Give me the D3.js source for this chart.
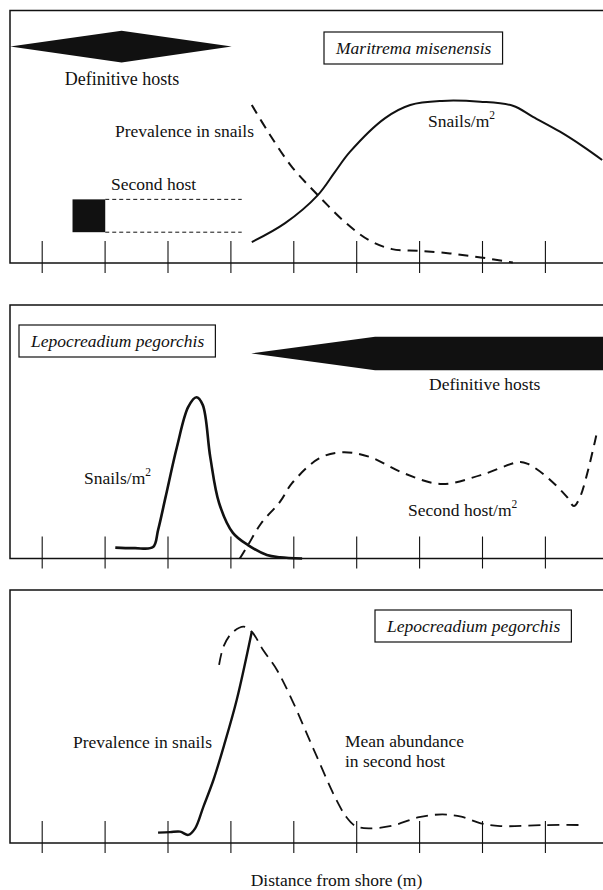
<!DOCTYPE html>
<html>
<head>
<meta charset="utf-8">
<script src="https://cdn.jsdelivr.net/npm/d3@7"></script>
<style>
  body { margin: 0; background: #fff; }
  svg { display: block; font-family: 'Liberation Serif', 'Times New Roman', serif; }
</style>
</head>
<body>
<div id="app"></div>
<script>
'use strict'

// Distance from shore, one unlabelled tick per step
const distanceTicks = [0, 1, 2, 3, 4, 5, 6, 7, 8]

// Maritrema misenensis (top panel), [distance, relative level 0-100]
const mmSnails = [
  [3.34, 8.3], [3.87, 15.8], [4.39, 26.9], [4.66, 36.0], [4.90, 44.0], [5.46, 57.4],
  [5.86, 62.6], [6.36, 64.2], [6.97, 63.9], [7.49, 62.3], [7.81, 57.9], [8.24, 52.0],
  [8.61, 46.1], [8.91, 40.8]
]
const mmPrevalence = [
  [3.34, 62.6], [3.61, 51.5], [3.98, 38.0], [4.39, 26.9], [4.84, 15.8], [5.20, 9.1],
  [5.57, 5.5], [6.00, 4.8], [6.49, 3.8], [6.98, 2.2], [7.49, 0.2]
]
// definitive hosts band: [distance, half thickness]
const mmDefHosts = [[-0.5, 0], [1.27, 6.3], [3.02, 0]]
const mmDefHostsLevel = 85.7
// second host: occupied from..to, then dashed extent
const mmSecondHost = [0.49, 1.01, 3.18]
const mmSecondHostLevels = [12.2, 25.2]

// Lepocreadium pegorchis (middle panel)
const lpSnails = [
  [1.17, 4.3], [1.48, 4.1], [1.77, 4.5], [1.85, 11.2], [1.97, 24.3], [2.15, 44.0],
  [2.33, 59.8], [2.46, 63.6], [2.56, 60.6], [2.68, 40.0], [2.82, 21.9], [3.04, 10.1],
  [3.28, 5.3], [3.58, 1.4], [3.79, 0.5], [4.14, 0]
]
const lpSecondHost = [
  [3.15, 0], [3.28, 5.3], [3.49, 13.9], [3.79, 22.4], [3.98, 29.7], [4.41, 39.5],
  [4.77, 41.9], [5.20, 40.2], [5.76, 33.6], [6.36, 29.4], [6.98, 32.9], [7.60, 38.1],
  [7.73, 37.3], [8.03, 32.2], [8.35, 24.3], [8.46, 20.7], [8.56, 24.3], [8.83, 50.0]
]
const lpDefHosts = [[3.33, 0], [5.30, 6.6], [9.2, 6.6]]
const lpDefHostsLevel = 80.9

// Lepocreadium pegorchis (bottom panel)
const lpPrevalence = [
  [1.85, 4.1], [2.04, 4.3], [2.20, 4.5], [2.33, 3.2], [2.44, 5.8], [2.57, 14.3],
  [2.73, 24.9], [2.90, 38.7], [3.10, 56.5], [3.34, 83.5]
]
const lpAbundance = [
  [2.82, 70.4], [2.89, 77.6], [3.02, 82.9], [3.21, 85.5], [3.34, 83.5], [3.52, 76.3],
  [3.74, 68.4], [3.98, 56.5], [4.35, 35.5], [4.66, 18.3], [4.84, 10.4], [4.99, 6.7],
  [5.20, 5.8], [5.57, 6.8], [6.00, 10.2], [6.37, 11.3], [6.67, 10.4], [6.98, 7.8],
  [7.29, 6.7], [8.02, 7.1], [8.63, 7.1]
]

const setWidth = 603
const setHeight = 890
const ink = '#111'

const svg = d3.select('#app')
  .append('svg')
  .attr('width', setWidth)
  .attr('height', setHeight)

const xScale = d3.scaleLinear()
  .domain([0, 9])
  .range([41.7, 607.8])

const makePanel = (top, bottom) => {
  const g = svg.append('g')
  const y = d3.scaleLinear().domain([0, 100]).range([bottom, top])

  g.append('rect')
    .attr('x', 10)
    .attr('y', top)
    .attr('width', 640)
    .attr('height', bottom - top)
    .attr('fill', 'none')
    .attr('stroke', ink)
    .attr('stroke-width', 1.5)

  const axis = g.append('g')
    .attr('transform', `translate(0,${bottom})`)
    .call(d3.axisBottom(xScale).tickValues(distanceTicks).tickSize(10).tickFormat(''))
  axis.select('.domain').remove()
  axis.selectAll('.tick text').remove()
  axis.selectAll('.tick line')
    .attr('y1', -22)
    .attr('stroke', ink)
    .attr('stroke-width', 1.1)

  return { g, y }
}

const curve = (p, data, width, dash) => {
  const line = d3.line()
    .x(d => xScale(d[0]))
    .y(d => p.y(d[1]))
    .curve(d3.curveCatmullRom.alpha(0.5))
  p.g.append('path')
    .datum(data)
    .attr('d', line)
    .attr('fill', 'none')
    .attr('stroke', ink)
    .attr('stroke-width', width)
    .attr('stroke-dasharray', dash || null)
}

const band = (p, data, level) => {
  const area = d3.area()
    .x(d => xScale(d[0]))
    .y0(d => p.y(level - d[1]))
    .y1(d => p.y(level + d[1]))
  p.g.append('path')
    .datum(data)
    .attr('d', area)
    .attr('fill', ink)
}

const label = (p, x, y, txt, opts = {}) => {
  const t = p.g.append('text')
    .attr('x', x)
    .attr('y', y)
    .attr('font-size', opts.size || 17.5)
    .attr('fill', ink)
    .attr('text-anchor', opts.anchor || 'start')
    .attr('font-style', opts.italic ? 'italic' : null)
  t.append('tspan').text(txt)
  if (opts.sup) {
    t.append('tspan').text(opts.sup).attr('font-size', 11.5).attr('dy', -8)
  }
  return t
}

const titleBox = (p, x, y, txt) => {
  const t = label(p, x, y, txt, { italic: true })
  const b = t.node().getBBox()
  p.g.insert('rect', () => t.node())
    .attr('x', b.x - 11)
    .attr('y', y - 22)
    .attr('width', b.width + 22)
    .attr('height', 32)
    .attr('fill', '#fff')
    .attr('stroke', ink)
    .attr('stroke-width', 1.2)
}

// ---- panel 1: Maritrema misenensis
const p1 = makePanel(10.5, 263)
band(p1, mmDefHosts, mmDefHostsLevel)
label(p1, 122, 85, 'Definitive hosts', { anchor: 'middle', size: 18 })
titleBox(p1, 336, 54, 'Maritrema misenensis')
curve(p1, mmSnails, 2)
curve(p1, mmPrevalence, 2, '10,7')
label(p1, 254, 137, 'Prevalence in snails', { anchor: 'end' })
label(p1, 428, 127, 'Snails/m', { sup: '2' })
label(p1, 111, 190, 'Second host')

p1.g.append('rect')
  .attr('x', xScale(mmSecondHost[0]))
  .attr('y', p1.y(mmSecondHostLevels[1]))
  .attr('width', xScale(mmSecondHost[1]) - xScale(mmSecondHost[0]))
  .attr('height', p1.y(mmSecondHostLevels[0]) - p1.y(mmSecondHostLevels[1]))
  .attr('fill', ink)

p1.g.selectAll('.second-host')
  .data(mmSecondHostLevels)
  .enter()
  .append('line')
  .attr('class', 'second-host')
  .attr('x1', xScale(mmSecondHost[1]))
  .attr('x2', xScale(mmSecondHost[2]))
  .attr('y1', d => p1.y(d))
  .attr('y2', d => p1.y(d))
  .attr('stroke', ink)
  .attr('stroke-width', 1)
  .attr('stroke-dasharray', '4,3')

// ---- panel 2: Lepocreadium pegorchis, densities
const p2 = makePanel(305, 558.5)
titleBox(p2, 31, 347, 'Lepocreadium pegorchis')
band(p2, lpDefHosts, lpDefHostsLevel)
label(p2, 429, 390, 'Definitive hosts')
curve(p2, lpSnails, 2.6)
curve(p2, lpSecondHost, 2, '10,7')
label(p2, 84, 484, 'Snails/m', { sup: '2' })
label(p2, 408, 516, 'Second host/m', { sup: '2' })

// ---- panel 3: Lepocreadium pegorchis, infection levels
const p3 = makePanel(590, 843)
titleBox(p3, 387, 632, 'Lepocreadium pegorchis')
curve(p3, lpPrevalence, 2.4)
curve(p3, lpAbundance, 1.8, '12,7')
label(p3, 73, 748, 'Prevalence in snails')
label(p3, 345, 747, 'Mean abundance')
label(p3, 345, 767, 'in second host')
label(p3, 336.5, 886, 'Distance from shore (m)', { anchor: 'middle' })
</script>
</body>
</html>
